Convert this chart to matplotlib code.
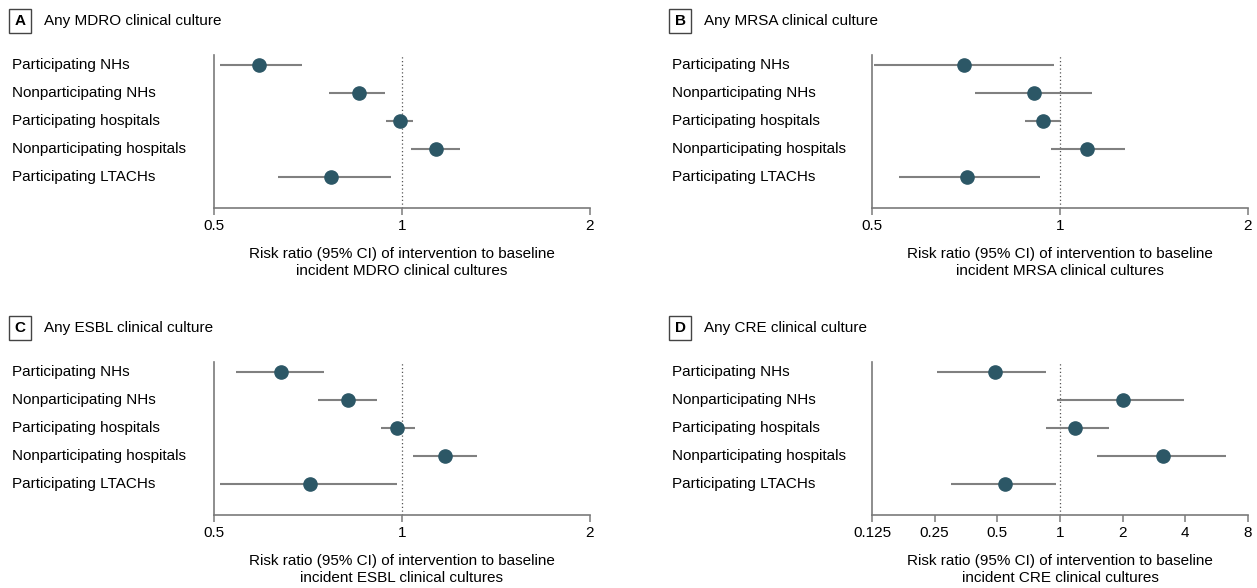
import numpy as np
import matplotlib.pyplot as plt
from matplotlib import transforms

groups = ["Participating NHs", "Nonparticipating NHs", "Participating hospitals",
          "Nonparticipating hospitals", "Participating LTACHs"]

# risk ratio, lower CI, upper CI
mdro_rr = [0.591, 0.852, 0.991, 1.132, 0.771]
mdro_lo = [0.512, 0.763, 0.943, 1.034, 0.633]
mdro_hi = [0.691, 0.940, 1.040, 1.239, 0.961]

mrsa_rr = [0.701, 0.910, 0.938, 1.106, 0.711]
mrsa_lo = [0.503, 0.732, 0.880, 0.969, 0.553]
mrsa_hi = [0.978, 1.124, 1.005, 1.273, 0.928]

esbl_rr = [0.641, 0.820, 0.983, 1.173, 0.713]
esbl_lo = [0.542, 0.734, 0.924, 1.043, 0.511]
esbl_hi = [0.751, 0.911, 1.051, 1.320, 0.980]

cre_rr = [0.487, 2.00, 1.18, 3.12, 0.546]
cre_lo = [0.256, 0.97, 0.86, 1.51, 0.298]
cre_hi = [0.860, 3.93, 1.71, 6.28, 0.955]

panels = [
    ("A", "Any MDRO clinical culture", "MDRO", mdro_rr, mdro_lo, mdro_hi, [0.5, 1, 2], ["0.5", "1", "2"]),
    ("B", "Any MRSA clinical culture", "MRSA", mrsa_rr, mrsa_lo, mrsa_hi, [0.5, 1, 2], ["0.5", "1", "2"]),
    ("C", "Any ESBL clinical culture", "ESBL", esbl_rr, esbl_lo, esbl_hi, [0.5, 1, 2], ["0.5", "1", "2"]),
    ("D", "Any CRE clinical culture", "CRE", cre_rr, cre_lo, cre_hi,
     [0.125, 0.25, 0.5, 1, 2, 4, 8], ["0.125", "0.25", "0.5", "1", "2", "4", "8"]),
]

plt.rcParams['font.family'] = ['Liberation Sans', 'DejaVu Sans']

W, H = 1257, 588
fig = plt.figure(figsize=(W / 100, H / 100), dpi=100)

dot_col = '#2c5766'
ci_col = '#808080'
spine_col = '#7a7a7a'
fs = 11

# pixel layout: (axes left, header left, top of axes)
slots = [(214, 10, 55), (872, 670, 55), (214, 10, 362), (872, 670, 362)]
ax_w, ax_h = 376, 153

for (letter, title, org, rr, lo, hi, ticks, tlabels), (axl, hl, top) in zip(panels, slots):
    ax = fig.add_axes([axl / W, 1 - (top + ax_h) / H, ax_w / W, ax_h / H])
    ax.set_xscale('log')
    ax.set_xlim(ticks[0], ticks[-1])
    ax.set_ylim(5.107, -0.357)
    y = np.arange(len(groups))
    rr = np.array(rr); lo = np.array(lo); hi = np.array(hi)
    ax.hlines(y, lo, hi, color=ci_col, lw=1.5, zorder=2)
    ax.plot(rr, y, 'o', color=dot_col, ms=9.5, zorder=3)
    ax.axvline(1, color='#555555', lw=0.9, ls=(0, (1, 2)), zorder=1)

    for s in ['top', 'right']:
        ax.spines[s].set_visible(False)
    for s in ['left', 'bottom']:
        ax.spines[s].set_color(spine_col)
        ax.spines[s].set_linewidth(1.2)
    ax.set_yticks([])
    ax.xaxis.set_minor_locator(plt.NullLocator())
    ax.set_xticks(ticks)
    ax.set_xticklabels(tlabels)
    ax.tick_params(axis='x', length=5, width=1.1, color=spine_col, labelsize=fs, pad=3)
    ax.set_xlabel(f"Risk ratio (95% CI) of intervention to baseline\nincident {org} clinical cultures",
                  fontsize=fs, labelpad=10, linespacing=1.3)

    tr = transforms.blended_transform_factory(fig.transFigure, ax.transData)
    for i, g in enumerate(groups):
        ax.text((hl + 2) / W, i, g, transform=tr, ha='left', va='center', fontsize=fs)

    # panel header
    hy = 1 - (top - 34) / H
    fig.text((hl + 10) / W, hy, letter, ha='center', va='center', fontsize=fs, fontweight='bold',
             bbox=dict(boxstyle='square,pad=0.35', fc='white', ec='#444444', lw=1))
    fig.text((hl + 34) / W, hy, title, ha='left', va='center', fontsize=fs)

fig.savefig('out.png', dpi=100, facecolor='white')
